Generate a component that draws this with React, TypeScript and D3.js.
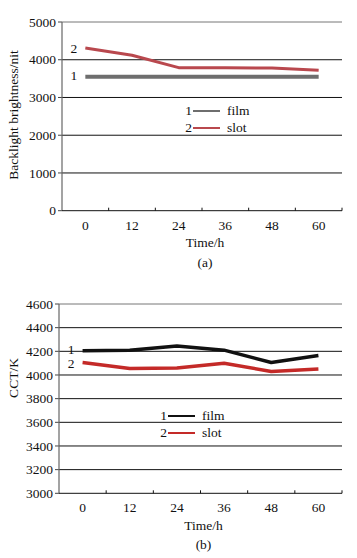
import React from "react";
import * as d3 from "d3";

const timeCats = ["0", "12", "24", "36", "48", "60"];
const brightFilm = [3550, 3550, 3550, 3550, 3550, 3550];
const brightSlot = [4310, 4120, 3790, 3790, 3780, 3720];
const brightTicks = [0, 1000, 2000, 3000, 4000, 5000];
const cctFilm = [4205, 4210, 4245, 4210, 4105, 4165];
const cctSlot = [4105, 4055, 4060, 4100, 4030, 4050];
const cctTicks = [3000, 3200, 3400, 3600, 3800, 4000, 4200, 4400, 4600];

const FONT = "Liberation Serif, serif";

type PanelProps = {
  left: number; right: number; top: number; bottom: number;
  domain: [number, number]; ticks: number[];
  s1: number[]; s2: number[]; c1: string; c2: string; w1: number; w2: number;
  ylabel: string; ylabelY: number; tag: string;
  legendX: number; legendY: number;
  tickLabelY: number; titleY: number; tagY: number;
};

function Panel(p: PanelProps) {
  const x = d3.scaleBand().domain(timeCats).range([p.left, p.right]);
  const y = d3.scaleLinear().domain(p.domain).range([p.bottom, p.top]);
  const line = d3
    .line<number>()
    .x((_, i) => (x(timeCats[i]) as number) + x.bandwidth() / 2)
    .y((v) => y(v));
  const bw = x.bandwidth();
  const cx = (p.left + p.right) / 2 + 3;
  return (
    <g fontFamily={FONT} fontSize={13.5} fill="#111">
      {p.ticks.slice(1).map((t, i) => (
        <line key={"g" + t} x1={p.left} x2={p.right} y1={y(t)} y2={y(t)}
          stroke={i === p.ticks.length - 2 ? "#777" : "#111"} strokeWidth={1} />
      ))}
      {p.ticks.map((t) => (
        <g key={"t" + t}>
          <line x1={p.left - 4} x2={p.left} y1={y(t)} y2={y(t)} stroke="#444" />
          <text x={p.left - 6} y={y(t)} dy="0.35em" textAnchor="end">{t}</text>
        </g>
      ))}
      <line x1={p.left} x2={p.left} y1={p.top} y2={p.bottom} stroke="#666" strokeWidth={1.2} />
      <line x1={p.left} x2={p.right} y1={p.bottom} y2={p.bottom} stroke="#111" strokeWidth={1} />
      {timeCats.map((c) => (
        <g key={"x" + c}>
          <line x1={(x(c) as number) + bw} x2={(x(c) as number) + bw} y1={p.bottom} y2={p.bottom - 3} stroke="#111" />
          <text x={(x(c) as number) + bw / 2} y={p.tickLabelY} textAnchor="middle">{c}</text>
        </g>
      ))}
      <path d={line(p.s1) || ""} fill="none" stroke={p.c1} strokeWidth={p.w1} strokeLinejoin="round" />
      <path d={line(p.s2) || ""} fill="none" stroke={p.c2} strokeWidth={p.w2} strokeLinejoin="round" />
      <text x={(x(timeCats[0]) as number) + bw / 2 - 8} y={y(p.s1[0]) - 1} dy="0.33em" textAnchor="end">1</text>
      <text x={(x(timeCats[0]) as number) + bw / 2 - 8} y={y(p.s2[0]) + 1} dy="0.33em" textAnchor="end">2</text>
      <g>
        <text x={p.legendX} y={p.legendY} dy="0.35em" textAnchor="end">1</text>
        <line x1={p.legendX + 1} x2={p.legendX + 28} y1={p.legendY + 1} y2={p.legendY + 1} stroke={p.c1} strokeWidth={2} />
        <text x={p.legendX + 35} y={p.legendY} dy="0.35em">film</text>
        <text x={p.legendX} y={p.legendY + 17} dy="0.35em" textAnchor="end">2</text>
        <line x1={p.legendX + 1} x2={p.legendX + 28} y1={p.legendY + 18} y2={p.legendY + 18} stroke={p.c2} strokeWidth={2} />
        <text x={p.legendX + 35} y={p.legendY + 17} dy="0.35em">slot</text>
      </g>
      <text transform={`translate(18,${p.ylabelY}) rotate(-90)`} textAnchor="middle">{p.ylabel}</text>
      <text x={cx} y={p.titleY} textAnchor="middle">Time/h</text>
      <text x={cx} y={p.tagY} textAnchor="middle">{p.tag}</text>
    </g>
  );
}

export default function App() {
  return (
    <svg width={357} height={558} style={{ position: "absolute", left: 0, top: 0, background: "#fff" }}>
      <rect width={357} height={558} fill="#fff" />
      <Panel left={62} right={342} top={22} bottom={210.7} domain={[0, 5000]} ticks={brightTicks}
        s1={brightFilm} s2={brightSlot} c1="#6e6e6e" c2="#b9484e" w1={4} w2={3}
        ylabel="Backlight brightness/nit" ylabelY={115} tag="(a)"
        legendX={192} legendY={110} tickLabelY={230} titleY={247} tagY={267} />
      <Panel left={59} right={342} top={304} bottom={493.3} domain={[3000, 4600]} ticks={cctTicks}
        s1={cctFilm} s2={cctSlot} c1="#111" c2="#c42a28" w1={3.5} w2={3.5}
        ylabel="CCT/K" ylabelY={378} tag="(b)"
        legendX={167} legendY={415} tickLabelY={512} titleY={530} tagY={549} />
    </svg>
  );
}
